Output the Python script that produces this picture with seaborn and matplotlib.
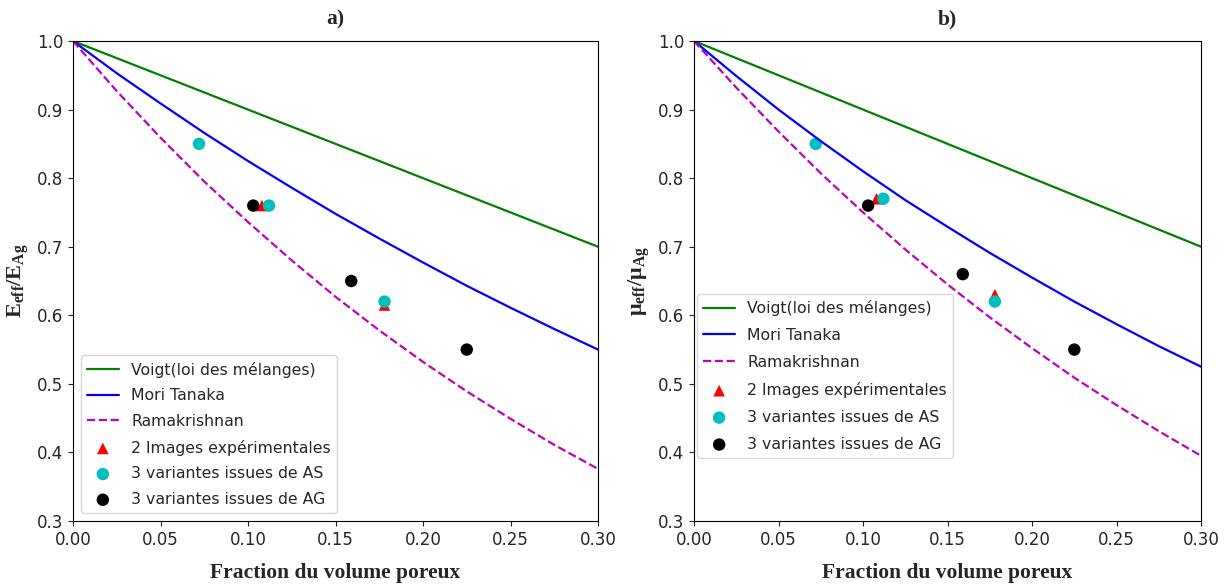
import numpy as np
import pandas as pd
import matplotlib
matplotlib.use('Agg')
import matplotlib.pyplot as plt
import seaborn as sns

porosity = [0.0, 0.025, 0.05, 0.075, 0.10, 0.125, 0.15, 0.175, 0.20, 0.225, 0.25, 0.275, 0.30]

# a) Young's modulus ratio
voigt_E = [1.0, 0.975, 0.95, 0.925, 0.90, 0.875, 0.85, 0.825, 0.80, 0.775, 0.75, 0.725, 0.70]
mori_E = [1.0, 0.953, 0.909, 0.866, 0.825, 0.786, 0.748, 0.712, 0.677, 0.643, 0.611, 0.580, 0.550]
rama_E = [1.0, 0.927, 0.859, 0.795, 0.736, 0.680, 0.627, 0.578, 0.532, 0.489, 0.449, 0.411, 0.376]

# b) shear modulus ratio
voigt_mu = [1.0, 0.975, 0.95, 0.925, 0.90, 0.875, 0.85, 0.825, 0.80, 0.775, 0.75, 0.725, 0.70]
mori_mu = [1.0, 0.949, 0.900, 0.854, 0.810, 0.768, 0.729, 0.691, 0.655, 0.620, 0.587, 0.555, 0.525]
rama_mu = [1.0, 0.932, 0.868, 0.807, 0.750, 0.696, 0.645, 0.597, 0.552, 0.509, 0.469, 0.431, 0.395]

# simulated / measured points
exp_x = [0.108, 0.178]
exp_E = [0.76, 0.615]
exp_mu = [0.77, 0.63]

as_x = [0.072, 0.112, 0.178]
as_E = [0.85, 0.76, 0.62]
as_mu = [0.85, 0.77, 0.62]

ag_x = [0.103, 0.159, 0.225]
ag_E = [0.76, 0.65, 0.55]
ag_mu = [0.76, 0.66, 0.55]

labels = ['Voigt(loi des mélanges)', 'Mori Tanaka', 'Ramakrishnan',
          '2 Images expérimentales', '3 variantes issues de AS', '3 variantes issues de AG']

sns.set_style('ticks')
plt.rcParams['font.family'] = ['DejaVu Sans']
plt.rcParams['mathtext.fontset'] = 'custom'
plt.rcParams['mathtext.rm'] = 'Liberation Serif'
plt.rcParams['mathtext.it'] = 'Liberation Serif:italic'
plt.rcParams['mathtext.bf'] = 'Liberation Serif:bold'

fig = plt.figure(figsize=(12.31, 5.85), dpi=100)
ax_a = fig.add_axes([0.0593, 0.1094, 0.4265, 0.8205])
ax_b = fig.add_axes([0.5638, 0.1094, 0.4119, 0.8205])

panels = [
    (ax_a, voigt_E, mori_E, rama_E, exp_E, as_E, ag_E, 'a)', r'$\mathbf{E_{eff}/E_{Ag}}$'),
    (ax_b, voigt_mu, mori_mu, rama_mu, exp_mu, as_mu, ag_mu, 'b)', r'$\mathbf{\mu_{eff}/\mu_{Ag}}$'),
]

serif_bold = dict(family='Liberation Serif', weight='bold', size=15.5)

for ax, v, m, r, ex, a_s, a_g, title, ylab in panels:
    sns.lineplot(x=porosity, y=v, ax=ax, color='g', lw=1.6, label=labels[0])
    sns.lineplot(x=porosity, y=m, ax=ax, color='b', lw=1.6, label=labels[1])
    sns.lineplot(x=porosity, y=r, ax=ax, color='m', lw=1.6, ls='--', label=labels[2])
    sns.scatterplot(x=exp_x, y=ex, ax=ax, color='r', marker='^', s=70, edgecolor='none', label=labels[3])
    sns.scatterplot(x=as_x, y=a_s, ax=ax, color='c', marker='o', s=80, edgecolor='none', label=labels[4])
    sns.scatterplot(x=ag_x, y=a_g, ax=ax, color='k', marker='o', s=80, edgecolor='none', label=labels[5])

    ax.set_xlim(0, 0.30)
    ax.set_ylim(0.3, 1.0)
    ax.set_xticks(np.arange(0, 0.301, 0.05))
    ax.set_yticks(np.arange(0.3, 1.001, 0.1))
    ax.xaxis.set_major_formatter(matplotlib.ticker.FormatStrFormatter('%.2f'))
    ax.yaxis.set_major_formatter(matplotlib.ticker.FormatStrFormatter('%.1f'))
    ax.tick_params(labelsize=12)
    for sp in ax.spines.values():
        sp.set_visible(True)
        sp.set_color('black')

    ax.set_title(title, fontdict=serif_bold, pad=12)
    ax.set_xlabel('Fraction du volume poreux', fontdict=serif_bold, labelpad=10)
    ax.set_ylabel(ylab, fontsize=16)

ax_a.legend(loc='lower left', fontsize=11.3, borderaxespad=0.5, labelspacing=0.68)
ax_b.legend(loc='upper left', bbox_to_anchor=(0.0, 0.48), fontsize=11.3, borderaxespad=0.2,
            labelspacing=0.76)

fig.savefig('out.png', dpi=100)
